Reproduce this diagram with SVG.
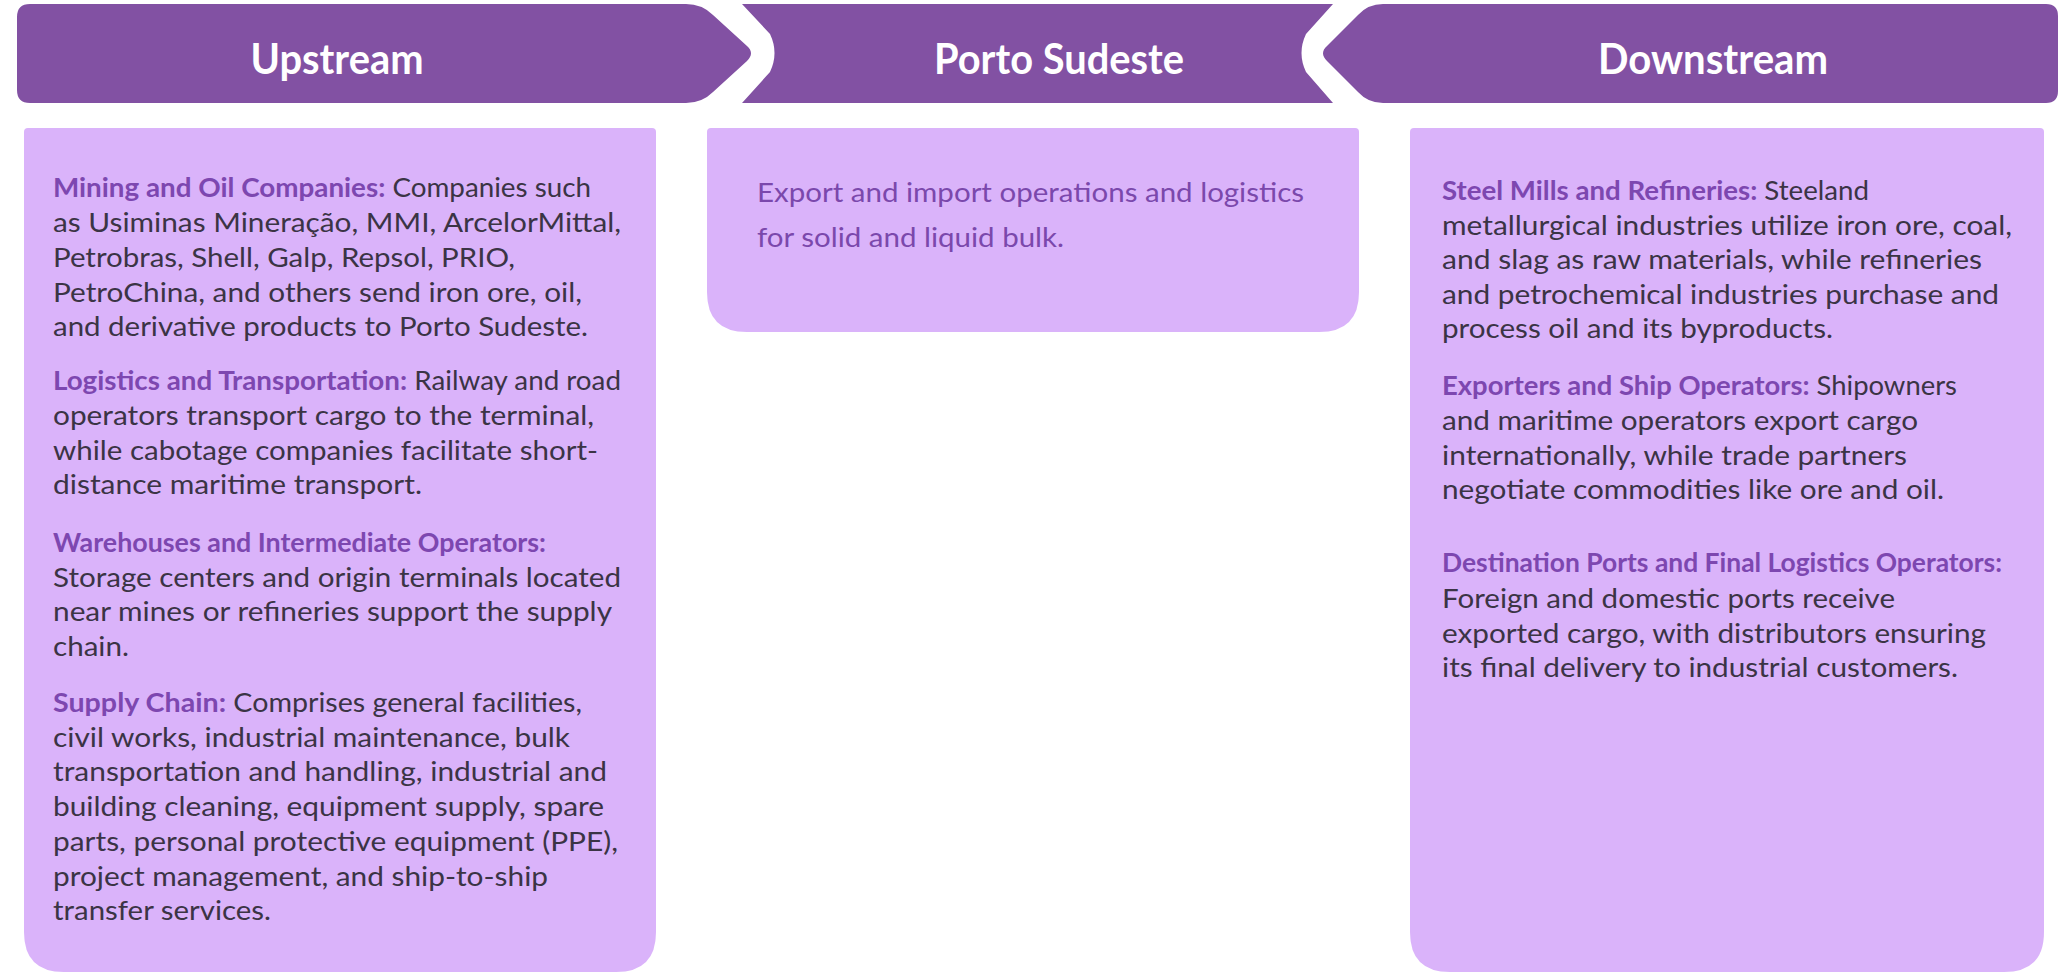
<svg xmlns="http://www.w3.org/2000/svg" width="2066" height="973" viewBox="0 0 2066 973">
  <style>
    .hdr { fill: #8251A3; }
    .body { fill: #DAB3FA; }
    .htxt { font-family: Lato, "Liberation Sans", sans-serif; font-weight: bold; font-size: 42px; fill: #FFFFFF; text-anchor: middle; }
    .txt { font-family: Lato, "Liberation Sans", sans-serif; font-size: 27.5px; fill: #3B3445; }
    .lbl { font-weight: bold; fill: #7D47B0; }
    .mid { font-family: Lato, "Liberation Sans", sans-serif; font-size: 27.5px; fill: #7B48AC; }
  </style>
  <rect width="2066" height="973" fill="#FFFFFF"/>

  <!-- Upstream column -->
  <g id="upstream">
    <path class="hdr" d="M17,17 Q17,4 30,4 H686 Q702,4 713,15 L747,46 Q755,53 747,61 L713,92 Q702,103 686,103 H30 Q17,103 17,90 Z"/>
    <text class="htxt" x="337" y="74" textLength="173" lengthAdjust="spacingAndGlyphs">Upstream</text>
    <path class="body" d="M28,128 H652 Q656,128 656,132 V932 Q656,972 616,972 H64 Q24,972 24,932 V132 Q24,128 28,128 Z"/>
    <g class="txt">
      <text x="53" y="197" textLength="538" lengthAdjust="spacingAndGlyphs"><tspan class="lbl">Mining and Oil Companies:</tspan> Companies such</text>
      <text x="53" y="232" textLength="568" lengthAdjust="spacingAndGlyphs">as Usiminas Mineração, MMI, ArcelorMittal,</text>
      <text x="53" y="267" textLength="462" lengthAdjust="spacingAndGlyphs">Petrobras, Shell, Galp, Repsol, PRIO,</text>
      <text x="53" y="302" textLength="529" lengthAdjust="spacingAndGlyphs">PetroChina, and others send iron ore, oil,</text>
      <text x="53" y="336" textLength="535" lengthAdjust="spacingAndGlyphs">and derivative products to Porto Sudeste.</text>

      <text x="53" y="390" textLength="568" lengthAdjust="spacingAndGlyphs"><tspan class="lbl">Logistics and Transportation:</tspan> Railway and road</text>
      <text x="53" y="425" textLength="541" lengthAdjust="spacingAndGlyphs">operators transport cargo to the terminal,</text>
      <text x="53" y="460" textLength="545" lengthAdjust="spacingAndGlyphs">while cabotage companies facilitate short-</text>
      <text x="53" y="494" textLength="369" lengthAdjust="spacingAndGlyphs">distance maritime transport.</text>

      <text x="53" y="552" textLength="493" lengthAdjust="spacingAndGlyphs"><tspan class="lbl">Warehouses and Intermediate Operators:</tspan></text>
      <text x="53" y="587" textLength="568" lengthAdjust="spacingAndGlyphs">Storage centers and origin terminals located</text>
      <text x="53" y="621" textLength="559" lengthAdjust="spacingAndGlyphs">near mines or refineries support the supply</text>
      <text x="53" y="656" textLength="76" lengthAdjust="spacingAndGlyphs">chain.</text>

      <text x="53" y="712" textLength="529" lengthAdjust="spacingAndGlyphs"><tspan class="lbl">Supply Chain:</tspan> Comprises general facilities,</text>
      <text x="53" y="747" textLength="517" lengthAdjust="spacingAndGlyphs">civil works, industrial maintenance, bulk</text>
      <text x="53" y="781" textLength="554" lengthAdjust="spacingAndGlyphs">transportation and handling, industrial and</text>
      <text x="53" y="816" textLength="551" lengthAdjust="spacingAndGlyphs">building cleaning, equipment supply, spare</text>
      <text x="53" y="851" textLength="565" lengthAdjust="spacingAndGlyphs">parts, personal protective equipment (PPE),</text>
      <text x="53" y="886" textLength="495" lengthAdjust="spacingAndGlyphs">project management, and ship-to-ship</text>
      <text x="53" y="920" textLength="218" lengthAdjust="spacingAndGlyphs">transfer services.</text>
    </g>
  </g>

  <!-- Porto Sudeste column -->
  <g id="porto-sudeste">
    <path class="hdr" d="M742,4 H1333 L1306,34 Q1297,53 1306,72 L1333,103 H742 L770,72 Q779,53 770,34 Z"/>
    <text class="htxt" x="1059" y="74" textLength="250" lengthAdjust="spacingAndGlyphs">Porto Sudeste</text>
    <path class="body" d="M711,128 H1355 Q1359,128 1359,132 V292 Q1359,332 1319,332 H747 Q707,332 707,292 V132 Q707,128 711,128 Z"/>
    <text class="mid" x="757" y="202" textLength="547" lengthAdjust="spacingAndGlyphs">Export and import operations and logistics</text>
    <text class="mid" x="757" y="247" textLength="307" lengthAdjust="spacingAndGlyphs">for solid and liquid bulk.</text>
  </g>

  <!-- Downstream column -->
  <g id="downstream">
    <path class="hdr" d="M1383,4 H2046 Q2058,4 2058,16 V91 Q2058,103 2046,103 H1383 Q1368,103 1358,92 L1327,61 Q1319,53 1327,46 L1358,15 Q1368,4 1383,4 Z"/>
    <text class="htxt" x="1713" y="74" textLength="230" lengthAdjust="spacingAndGlyphs">Downstream</text>
    <path class="body" d="M1414,128 H2040 Q2044,128 2044,132 V932 Q2044,972 2004,972 H1450 Q1410,972 1410,932 V132 Q1410,128 1414,128 Z"/>
    <g class="txt">
      <text x="1442" y="200" textLength="427" lengthAdjust="spacingAndGlyphs"><tspan class="lbl">Steel Mills and Refineries:</tspan> Steeland</text>
      <text x="1442" y="235" textLength="570" lengthAdjust="spacingAndGlyphs">metallurgical industries utilize iron ore, coal,</text>
      <text x="1442" y="269" textLength="540" lengthAdjust="spacingAndGlyphs">and slag as raw materials, while refineries</text>
      <text x="1442" y="304" textLength="557" lengthAdjust="spacingAndGlyphs">and petrochemical industries purchase and</text>
      <text x="1442" y="338" textLength="391" lengthAdjust="spacingAndGlyphs">process oil and its byproducts.</text>

      <text x="1442" y="395" textLength="515" lengthAdjust="spacingAndGlyphs"><tspan class="lbl">Exporters and Ship Operators:</tspan> Shipowners</text>
      <text x="1442" y="430" textLength="476" lengthAdjust="spacingAndGlyphs">and maritime operators export cargo</text>
      <text x="1442" y="465" textLength="465" lengthAdjust="spacingAndGlyphs">internationally, while trade partners</text>
      <text x="1442" y="499" textLength="502" lengthAdjust="spacingAndGlyphs">negotiate commodities like ore and oil.</text>

      <text x="1442" y="572" textLength="560" lengthAdjust="spacingAndGlyphs"><tspan class="lbl">Destination Ports and Final Logistics Operators:</tspan></text>
      <text x="1442" y="608" textLength="453" lengthAdjust="spacingAndGlyphs">Foreign and domestic ports receive</text>
      <text x="1442" y="643" textLength="544" lengthAdjust="spacingAndGlyphs">exported cargo, with distributors ensuring</text>
      <text x="1442" y="677" textLength="516" lengthAdjust="spacingAndGlyphs">its final delivery to industrial customers.</text>
    </g>
  </g>

  <g id="connectors"/>
</svg>
